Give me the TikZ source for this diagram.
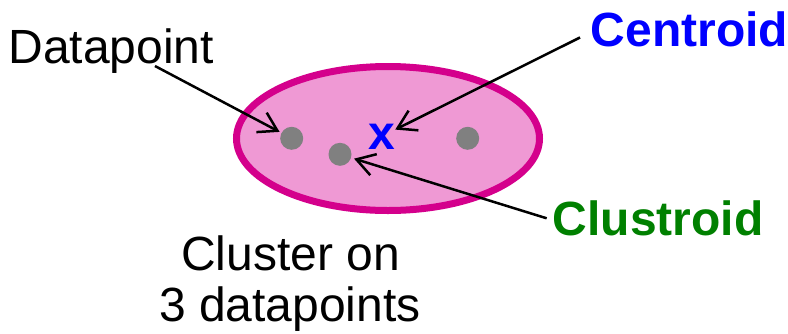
\documentclass[tikz,border=0pt]{standalone}
\usepackage{fontspec}
\setmainfont{Liberation Sans}
\usetikzlibrary{arrows.meta}
\definecolor{pinkfill}{RGB}{239,153,212}
\definecolor{magentaline}{RGB}{212,0,140}
\definecolor{dotgray}{RGB}{128,128,128}
\definecolor{cblue}{RGB}{0,0,255}
\definecolor{cgreen}{RGB}{0,128,0}
\begin{document}
\begin{tikzpicture}[x=1pt,y=-1pt,
  bigtext/.style={inner sep=0pt, font=\fontsize{48}{53}\selectfont},
  boldtext/.style={inner sep=0pt, font=\fontsize{48}{53}\selectfont\bfseries},
  dotnode/.style={circle, fill=dotgray, minimum size=23pt, inner sep=0pt},
  pointer/.style={line width=2.5pt, -{Straight Barb[length=18pt,width=22pt,line width=2.5pt]}, shorten >=2pt}
]
\useasboundingbox (0,0) rectangle (788,333);
% cluster ellipse
\draw[line width=7pt, draw=magentaline, fill=pinkfill] (388,138.5) ellipse [x radius=151.5pt, y radius=72pt];
% datapoints
\node[dotnode] (d1) at (291.7,138.3) {};
\node[dotnode] (d2) at (340,154.3) {};
\node[dotnode] (d3) at (467.7,138.3) {};
% centroid marker
\node[boldtext, anchor=base, text=cblue] (cx) at (381.7,149) {x};
% labels
\node[bigtext, anchor=base west] (lblD) at (8.3,63) {Datapoint};
\node[boldtext, anchor=base west, text=cblue] (lblC) at (590.6,46) {Centroid};
\node[boldtext, anchor=base west, text=cgreen] (lblK) at (552.6,235) {Clustroid};
\node[bigtext, anchor=base] (cap1) at (290.5,270) {Cluster on};
\node[bigtext, anchor=base] (cap2) at (290,321) {3 datapoints};
% arrow start points
\coordinate (sD) at (155,66);
\coordinate (sC) at (580,37.5);
\coordinate (sK) at (546.7,218.3);
% arrows
\draw[pointer] (sD) -- (d1);
\draw[pointer, shorten >=0pt] (sC) -- (cx);
\draw[pointer, shorten >=3pt] (sK) -- (d2);
\end{tikzpicture}
\end{document}
